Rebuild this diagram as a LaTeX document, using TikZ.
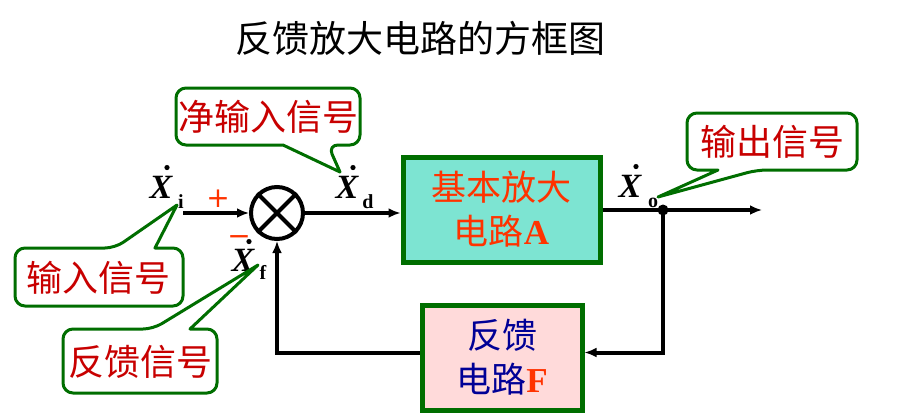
\documentclass[tikz,border=0pt]{standalone}
\usepackage{fontspec}
\setmainfont{Liberation Serif}
\newfontfamily\cjk{Noto Sans CJK SC}
\usetikzlibrary{arrows.meta,calc}
\definecolor{cgreen}{RGB}{0,110,0}
\definecolor{cred}{RGB}{200,0,0}
\definecolor{corange}{RGB}{255,51,0}
\definecolor{cblue}{RGB}{0,0,150}
\definecolor{cteal}{RGB}{125,228,210}
\definecolor{cpink}{RGB}{255,218,218}
\tikzset{
  wire/.style={line width=4pt, black},
  arr/.style={wire, -{Latex[length=12pt,width=10pt]}},
  blockbox/.style={draw=cgreen, line width=5pt, inner sep=0pt, align=center,
     font=\cjk\fontsize{35}{44}\selectfont},
  callout/.style={draw=cgreen, line width=3pt, fill=white, line join=round},
  calltext/.style={text=cred, inner sep=0pt, font=\cjk\fontsize{36}{36}\selectfont},
  xlab/.style={inner sep=0pt, anchor=base, font=\bfseries\itshape\fontsize{34}{34}\selectfont},
  sublab/.style={inner sep=0pt, anchor=base, font=\bfseries\fontsize{20}{20}\selectfont},
  sign/.style={inner sep=0pt, text=corange, font=\fontspec{DejaVu Sans}\fontsize{28}{28}\selectfont},
}
\begin{document}
\begin{tikzpicture}[x=1pt,y=-1pt]
\useasboundingbox (0,0) rectangle (911,413);
% title
\node[inner sep=0pt, font=\cjk\fontsize{37}{37}\selectfont] (title) at (420,38) {反馈放大电路的方框图};
% blocks
\node[circle, draw, line width=4pt, minimum size=52pt, inner sep=0pt] (sum) at (277,213) {};
\draw[line width=4pt] (sum.north west) -- (sum.south east) (sum.north east) -- (sum.south west);
\node[blockbox, fill=cteal, minimum width=197pt, minimum height=105pt, text=corange] (A) at (501.5,209.5)
  {基本放大\\电路\textbf{\fontspec{Liberation Serif}A}};
\node[blockbox, fill=cpink, minimum width=160pt, minimum height=105pt, text=cblue] (F) at (502,357.5)
  {反馈\\电路\textcolor{corange}{\textbf{\fontspec{Liberation Serif}F}}};
% coordinates
\coordinate (in) at (183,213);
\coordinate (j) at (663,210);
\coordinate (out) at (762,210);
% connectors
\draw[arr] (in) -- (sum.west);
\draw[arr] (sum.east) -- (sum.east -| A.west);
\draw[wire] (A.east |- j) -- (j);
\draw[arr] (j) -- (out);
\fill (j) circle (5.5pt);
\draw[arr] (j) |- ([yshift=5pt]F.east);
\draw[arr] ([yshift=5pt]F.west) -| (sum.south);
% signal labels
\node[xlab] (xi) at (161,198) {X};
\fill (xi.north) ++(6,-8) circle (2.6pt);
\node[sublab] (xis) at (181,208) {i};
\node[sign] (plus) at (218,199) {+};
\node[sign, anchor=base] (minus) at (239,245) {−};
\node[xlab] (xf) at (243,271) {X};
\fill (xf.north) ++(6,-7) circle (2.6pt);
\node[sublab] (xfs) at (263,279) {f};
\node[xlab] (xd) at (347,198) {X};
\fill (xd.north) ++(6,-8) circle (2.6pt);
\node[sublab] (xds) at (368,208) {d};
\node[xlab] (xo) at (630,197) {X};
\fill (xo.north) ++(6,-8) circle (2.6pt);
\node[sublab] (xos) at (653,207) {o};
% callouts
\draw[callout] (268,88) [rounded corners=10pt] -- (360,88) -- (360,145) -- (328,145) [sharp corners] -- (340,172) -- (283,145) [rounded corners=10pt] -- (176,145) -- (176,88) -- cycle;
\node[calltext] (c1) at (268,117) {净输入信号};
\draw[callout] (100,306) [rounded corners=10pt] -- (15,306) -- (15,248) -- (115,248) [sharp corners] -- (177,205) -- (155,248) [rounded corners=10pt] -- (183,248) -- (183,306) -- cycle;
\node[calltext] (c2) at (99,278) {输入信号};
\draw[callout] (140,393) [rounded corners=10pt] -- (63,393) -- (63,329) -- (153,329) [sharp corners] -- (258,265) -- (190,329) [rounded corners=10pt] -- (217,329) -- (217,393) -- cycle;
\node[calltext] (c3) at (140,362) {反馈信号};
\draw[callout] (772,113) [rounded corners=10pt] -- (857,113) -- (857,170) -- (757,170) [sharp corners] -- (658,197) -- (718,170) [rounded corners=10pt] -- (687,170) -- (687,113) -- cycle;
\node[calltext] (c4) at (772,142) {输出信号};
\end{tikzpicture}
\end{document}
